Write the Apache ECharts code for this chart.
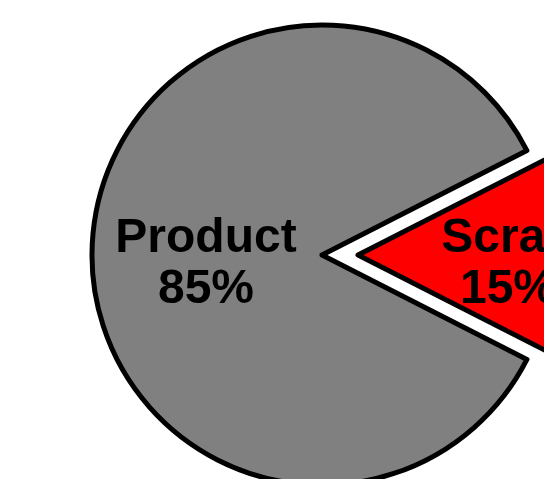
<!DOCTYPE html>
<html>
<head>
<meta charset="utf-8">
<script src="https://cdn.jsdelivr.net/npm/echarts@6/dist/echarts.min.js"></script>
<style>html,body{margin:0;padding:0;background:#fff}#c{width:544px;height:479px}</style>
</head>
<body>
<div id="c"></div>
<script>
const categories = ['Scrap', 'Product'];
const values = [15, 85];
const colors = ['#FF0000', '#808080'];
const exploded = [true, false];
const labelShift = [[32, 9], [2, 9]];

const chart = echarts.init(document.getElementById('c'), null, {renderer: 'canvas'});
chart.setOption({
  animation: false,
  backgroundColor: '#ffffff',
  series: [{
    type: 'pie',
    center: [322, 255],
    radius: [0, 230],
    startAngle: 27,
    clockwise: true,
    selectedMode: 'multiple',
    selectedOffset: 36,
    avoidLabelOverlap: false,
    emphasis: {disabled: true},
    itemStyle: {borderColor: '#000', borderWidth: 5},
    label: {
      show: true,
      position: 'inside',
      formatter: '{b}\n{c}%',
      color: '#000',
      fontFamily: 'Liberation Sans, Arial, sans-serif',
      fontWeight: 'bold',
      fontSize: 48,
      lineHeight: 51
    },
    labelLayout: function (p) {
      const s = labelShift[p.dataIndex];
      return {dx: s[0], dy: s[1]};
    },
    labelLine: {show: false},
    data: categories.map((n, i) => ({
      name: n, value: values[i], selected: exploded[i],
      itemStyle: {color: colors[i]}
    }))
  }]
});
</script>
</body>
</html>
